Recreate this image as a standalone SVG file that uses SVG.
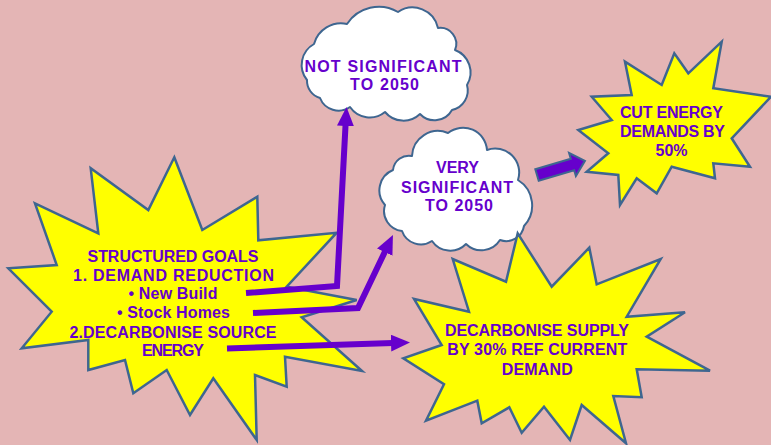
<svg xmlns="http://www.w3.org/2000/svg" width="771" height="445" viewBox="0 0 771 445">
<style>
.star{fill:#FFFF00;stroke:#3E6690;stroke-width:2.5;stroke-linejoin:miter}
.cloud{fill:#FFFFFF;stroke:#3E6690;stroke-width:2;stroke-linejoin:round}
.t{font-family:"Liberation Sans",Arial,sans-serif;font-weight:bold;font-size:16px;fill:#6600CC;text-anchor:middle}
.conn{fill:none;stroke:#6600CC;stroke-width:6;stroke-linejoin:miter}
</style>
<defs>
<marker id="ah" markerUnits="userSpaceOnUse" markerWidth="20" markerHeight="18" refX="2" refY="8.5" orient="auto">
<path d="M0,0 L19,8.5 L0,17 z" fill="#6600CC"/>
</marker>
</defs>
<rect x="0" y="0" width="771" height="445" fill="#E4B5B5"/>

<g id="goals">
<polygon class="star" points="174.3,157.3 202.3,230 257.3,196.7 258.3,240.3 336.7,232.7 286.7,286.7 356.7,300 301.7,317.3 362,371 285,356.7 286.7,386.7 255,375 256.7,440 213.3,378.3 190,415 166.7,370 133.3,393.3 125,360 88.3,370 88.3,340 21.7,348.3 51.7,311.7 8.3,268.3 56.7,265 35,203.3 98.3,233.3 90.7,168.3 148.3,210"/>
<text class="t" x="173" y="261.5" textLength="171" lengthAdjust="spacing">STRUCTURED GOALS</text>
<text class="t" x="173.5" y="280.5" textLength="201" lengthAdjust="spacing">1. DEMAND REDUCTION</text>
<text class="t" x="173" y="299" textLength="89" lengthAdjust="spacing">• New Build</text>
<text class="t" x="173.5" y="318" textLength="113" lengthAdjust="spacing">• Stock Homes</text>
<text class="t" x="173" y="337.5" textLength="207" lengthAdjust="spacing">2.DECARBONISE SOURCE</text>
<text class="t" x="173" y="356" textLength="62" lengthAdjust="spacing">ENERGY</text>
</g>

<g id="not-significant">
<path class="cloud" d="M307,80 A24,24 0 0,1 314,44 A28,28 0 0,1 347,24 A38,38 0 0,1 398,12 A26,26 0 0,1 438,28 A16,16 0 0,1 455,50 A24,24 0 0,1 467,85 A20,20 0 0,1 452,110 A20,20 0 0,1 420,114 A24,24 0 0,1 385,112 A24,24 0 0,1 350,107 A20,20 0 0,1 320,98 A18,18 0 0,1 307,80 Z"/>
<text class="t" x="383" y="71.5" textLength="157" lengthAdjust="spacing">NOT SIGNIFICANT</text>
<text class="t" x="384.5" y="90" textLength="69" lengthAdjust="spacing">TO 2050</text>
</g>

<g id="very-significant">
<path class="cloud" d="M385,205 A22,22 0 0,1 393,170 A16,16 0 0,1 412,156 A26,26 0 0,1 448,133 A24,24 0 0,1 487,150 A24,24 0 0,1 518,180 A30,30 0 0,1 524,226 A18,18 0 0,1 500,240 A22,22 0 0,1 466,244 A22,22 0 0,1 432,241 A20,20 0 0,1 402,231 A20,20 0 0,1 385,205 Z"/>
<text class="t" x="457.5" y="173">VERY</text>
<text class="t" x="457" y="192.5" textLength="112" lengthAdjust="spacing">SIGNIFICANT</text>
<text class="t" x="459" y="211" textLength="68" lengthAdjust="spacing">TO 2050</text>
</g>

<g id="cut-energy">
<polygon class="star" points="625,61.7 631.7,95 591.7,96.7 611.7,120 578.3,130 608.3,153.3 586.7,171.7 618.3,175 620,205 636.7,178.3 656.7,193.3 671.7,166.7 715,178.3 713.3,163.3 750,166.7 731.7,138.3 771,96.7 713.3,88.3 721.7,41.7 688.3,73.3 674.3,53.3 661.7,85"/>
<text class="t" x="671.5" y="118" textLength="103" lengthAdjust="spacing">CUT ENERGY</text>
<text class="t" x="672.5" y="137" textLength="105" lengthAdjust="spacing">DEMANDS BY</text>
<text class="t" x="671.5" y="156">50%</text>
</g>

<g id="decarbonise-supply">
<polygon class="star" points="517.7,233.3 551.7,286.7 589.3,247.7 596.7,284.3 660.7,259 626.7,316.7 685,312.3 646.7,336.7 710,370.7 636.7,369.3 641.7,397.3 613.3,396 626,443.3 581.7,405 570,440 544,406.7 521.7,432.7 509.3,407.3 481.7,423.3 477.3,400.7 426,420.7 444,384.3 403.3,358.3 441.7,345 414,299 469,311.7 452.7,259 506,281.7"/>
<text class="t" x="537" y="335.5" textLength="184" lengthAdjust="spacing">DECARBONISE SUPPLY</text>
<text class="t" x="537.3" y="355" textLength="180" lengthAdjust="spacing">BY 30% REF CURRENT</text>
<text class="t" x="537.2" y="374.5" textLength="71" lengthAdjust="spacing">DEMAND</text>
</g>

<g id="connectors">
<polyline class="conn" points="246,293 337,286 345.6,124" marker-end="url(#ah)"/>
<polyline class="conn" points="253,313 358,308 385.6,250.3" marker-end="url(#ah)"/>
<polyline class="conn" points="227,348.5 393,343" marker-end="url(#ah)"/>
<polygon points="0,-6 37,-6 37,-12 50,0 37,12 37,6 0,6" transform="translate(537,175) rotate(-16.5)" fill="#6600CC" stroke="#3E6690" stroke-width="2" stroke-linejoin="miter"/>
</g>
</svg>
